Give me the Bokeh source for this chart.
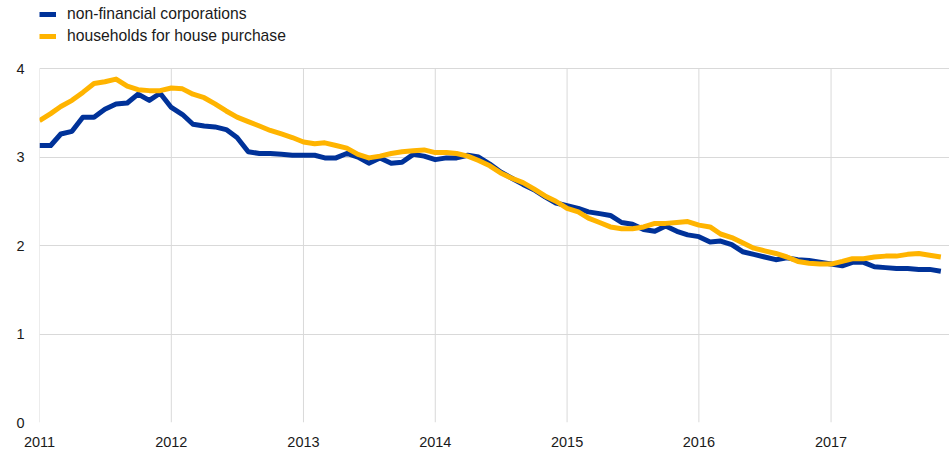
import pandas as pd
from bokeh.plotting import figure
from bokeh.models import (Range1d, DatetimeTickFormatter, Legend,
                          LegendItem, FixedTicker)
from bokeh.embed import file_html
from bokeh.resources import INLINE

# monthly data, Jan 2011 - Nov 2017
start_month = "2011-01-01"
n_months = 83
nfc = [3.13, 3.13, 3.26, 3.29, 3.45, 3.45, 3.54, 3.60, 3.61, 3.71, 3.64, 3.72,
       3.56, 3.48, 3.37, 3.35, 3.34, 3.31, 3.22, 3.06, 3.04, 3.04, 3.03, 3.02,
       3.02, 3.02, 2.99, 2.99, 3.04, 3.00, 2.93, 2.99, 2.93, 2.94, 3.03, 3.01,
       2.97, 2.99, 2.99, 3.02, 3.00, 2.92, 2.83, 2.76, 2.69, 2.63, 2.55, 2.48,
       2.45, 2.42, 2.38, 2.36, 2.34, 2.26, 2.24, 2.18, 2.16, 2.22, 2.16, 2.12,
       2.10, 2.04, 2.05, 2.01, 1.93, 1.90, 1.87, 1.84, 1.86, 1.84, 1.83, 1.81,
       1.79, 1.77, 1.81, 1.81, 1.76, 1.75, 1.74, 1.74, 1.73, 1.73, 1.71]
households = [3.41, 3.49, 3.57, 3.64, 3.73, 3.83, 3.85, 3.88, 3.80, 3.76, 3.75, 3.75,
              3.78, 3.77, 3.71, 3.67, 3.60, 3.52, 3.45, 3.40, 3.35, 3.30, 3.26, 3.22,
              3.17, 3.15, 3.16, 3.13, 3.10, 3.03, 2.99, 3.01, 3.04, 3.06, 3.07, 3.08,
              3.05, 3.05, 3.04, 3.01, 2.96, 2.90, 2.82, 2.76, 2.71, 2.64, 2.56, 2.50,
              2.42, 2.38, 2.31, 2.26, 2.21, 2.19, 2.19, 2.21, 2.25, 2.25, 2.26, 2.27,
              2.23, 2.21, 2.13, 2.09, 2.03, 1.97, 1.94, 1.91, 1.87, 1.82, 1.80, 1.79,
              1.79, 1.82, 1.85, 1.85, 1.87, 1.88, 1.88, 1.90, 1.91, 1.89, 1.87]
series_labels = ["non-financial corporations", "households for house purchase"]
series_colors = ["#003299", "#ffb400"]
year_ticks = [2011, 2012, 2013, 2014, 2015, 2016, 2017]
y_ticks = [0, 1, 2, 3, 4]

dates = pd.date_range(start_month, periods=n_months, freq="MS")
year_dates = [pd.Timestamp(year=y, month=1, day=1) for y in year_ticks]
year_ms = [d.value // 10**6 for d in year_dates]

W, H = 949, 452
TOP_PAD = 68          # pixels above the value 4 reserved for the legend
FRAME_H = H - 30      # frame from page top to the zero line
y_top = y_ticks[-1] * FRAME_H / (FRAME_H - TOP_PAD)

p = figure(width=W, height=H, output_backend="svg", toolbar_location=None,
           x_axis_type="datetime",
           x_range=Range1d(pd.Timestamp("2011-01-01"), pd.Timestamp("2017-11-25")),
           y_range=Range1d(0, y_top),
           min_border_left=39, min_border_right=0, min_border_top=0,
           min_border_bottom=30)
p.outline_line_color = None
p.background_fill_color = "white"
p.border_fill_color = "white"

# vertical year grid lines, only spanning the value range 0..4
p.segment(x0=year_dates, y0=[y_ticks[0]] * len(year_dates),
          x1=year_dates, y1=[y_ticks[-1]] * len(year_dates),
          line_color="#d9d9d9", line_width=1)

r1 = p.line(dates, nfc, line_color=series_colors[0], line_width=5, line_join="round")
r2 = p.line(dates, households, line_color=series_colors[1], line_width=5, line_join="round")

p.xaxis.ticker = FixedTicker(ticks=year_ms)
p.xaxis.formatter = DatetimeTickFormatter(years="%Y", months="%Y", days="%Y")
p.yaxis.ticker = FixedTicker(ticks=y_ticks)

for ax in (p.xaxis[0], p.yaxis[0]):
    ax.axis_line_color = None
    ax.major_tick_line_color = None
    ax.minor_tick_line_color = None
    ax.major_label_text_font = "Liberation Sans"
    ax.major_label_text_font_size = "14.5px"
    ax.major_label_text_color = "#1a1a1a"
p.xaxis.major_label_standoff = 8
p.yaxis.major_label_standoff = 9

p.xgrid.grid_line_color = None
p.ygrid.grid_line_color = "#d9d9d9"
p.ygrid.grid_line_width = 1

legend = Legend(items=[LegendItem(label=series_labels[0], renderers=[r1]),
                       LegendItem(label=series_labels[1], renderers=[r2])],
                location=(0, FRAME_H - 46), orientation="vertical",
                padding=0, margin=0, spacing=2,
                glyph_width=17, glyph_height=20, label_height=20,
                label_standoff=11,
                label_text_font="Liberation Sans", label_text_font_size="15.7px",
                label_text_color="#1a1a1a",
                border_line_color=None, background_fill_alpha=0)
p.add_layout(legend, "center")

open("out.html", "w").write(file_html(p, INLINE))
